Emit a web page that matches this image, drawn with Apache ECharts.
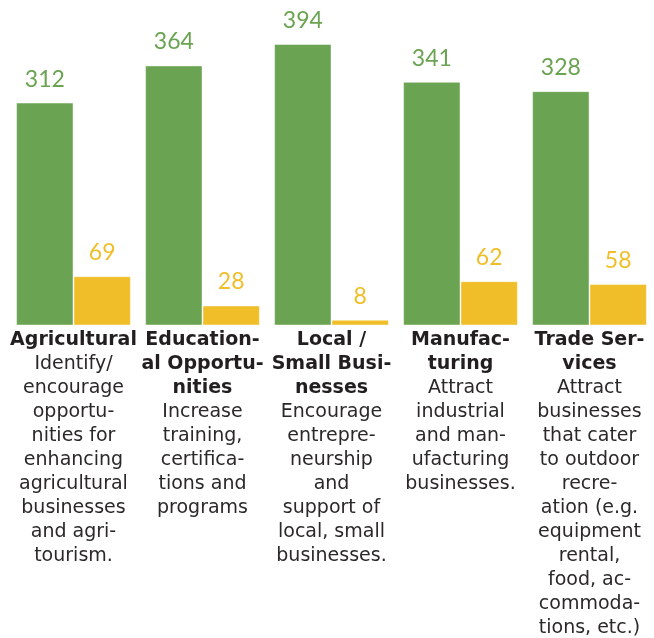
<!DOCTYPE html>
<html>
<head>
<meta charset="utf-8">
<script src="https://cdn.jsdelivr.net/npm/echarts@6/dist/echarts.min.js"></script>
<style>html,body{margin:0;padding:0;background:#fff}#c{width:654px;height:638px}</style>
</head>
<body>
<div id="c"></div>
<script>
var categories = ["Agricultural", "Educational Opportunities", "Local / Small Businesses", "Manufacturing", "Trade Services"];
var titleLines = [
  ["Agricultural"],
  ["Education-", "al Opportu-", "nities"],
  ["Local /", "Small Busi-", "nesses"],
  ["Manufac-", "turing"],
  ["Trade Ser-", "vices"]
];
var descLines = [
  ["Identify/", "encourage", "opportu-", "nities for", "enhancing", "agricultural", "businesses", "and agri-", "tourism."],
  ["Increase", "training,", "certifica-", "tions and", "programs"],
  ["Encourage", "entrepre-", "neurship", "and", "support of", "local, small", "businesses."],
  ["Attract", "industrial", "and man-", "ufacturing", "businesses."],
  ["Attract", "businesses", "that cater", "to outdoor", "recre-", "ation (e.g.", "equipment", "rental,", "food, ac-", "commoda-", "tions, etc.)"]
];
var greenValues = [312, 364, 394, 341, 328];
var yellowValues = [69, 28, 8, 62, 58];

var GREEN = '#6aa351', YELLOW = '#f0be28';
var chart = echarts.init(document.getElementById('c'));
chart.setOption({
  animation: false,
  grid: { left: 9, top: 4, width: 648, bottom: 311, containLabel: false },
  xAxis: {
    type: 'category',
    data: categories,
    axisLine: { show: false },
    axisTick: { show: false },
    axisLabel: {
      interval: 0,
      margin: 3,
      align: 'center',
      formatter: function (v, i) {
        var parts = titleLines[i].map(function (s) { return '{b|' + s + '}'; })
          .concat(descLines[i].map(function (s) { return '{r|' + s + '}'; }));
        return parts.join('\n');
      },
      rich: {
        b: { fontFamily: 'DejaVu Sans', fontWeight: 'bold', fontSize: 19, lineHeight: 24, color: '#231f20', align: 'center' },
        r: { fontFamily: 'DejaVu Sans', fontWeight: 'normal', fontSize: 19, lineHeight: 24, color: '#2b2829', align: 'center' }
      }
    }
  },
  yAxis: { type: 'value', min: 0, max: 450, show: false, splitLine: { show: false } },
  series: [
    {
      name: 'Series 1', type: 'bar', data: greenValues, barGap: '0%', barCategoryGap: '11%',
      itemStyle: { color: GREEN, borderColor: 'rgba(255,255,255,0.45)', borderWidth: 1 },
      label: { show: true, position: 'top', distance: 12, color: GREEN, fontFamily: 'Lato', fontWeight: 'normal', fontSize: 23 }
    },
    {
      name: 'Series 2', type: 'bar', data: yellowValues,
      itemStyle: { color: YELLOW, borderColor: 'rgba(255,255,255,0.45)', borderWidth: 1 },
      label: { show: true, position: 'top', distance: 12, color: YELLOW, fontFamily: 'Lato', fontWeight: 'normal', fontSize: 23 }
    }
  ]
});
</script>
</body>
</html>
